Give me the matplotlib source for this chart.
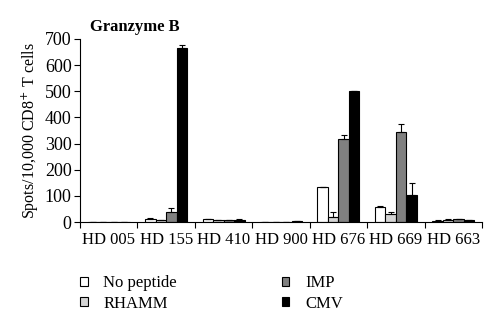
import numpy as np
import matplotlib.pyplot as plt
from matplotlib.patches import Patch

plt.rcParams['font.family'] = ['Liberation Serif', 'DejaVu Serif']

donors = ['HD 005', 'HD 155', 'HD 410', 'HD 900', 'HD 676', 'HD 669', 'HD 663']
conditions = ['No peptide', 'RHAMM', 'IMP', 'CMV']

no_peptide = [1, 11, 10, 1, 133, 58, 5]
rhamm = [1, 7, 7, 1, 20, 30, 9]
imp = [2, 40, 6, 2, 318, 345, 10]
cmv = [1, 665, 9, 3, 500, 103, 6]

no_peptide_err = [0, 3, 2, 0, 2, 5, 1]
rhamm_err = [0, 2, 2, 0, 18, 10, 2]
imp_err = [0, 12, 2, 0, 15, 28, 2]
cmv_err = [0, 12, 2, 1, 0, 45, 1]

values = [no_peptide, rhamm, imp, cmv]
errors = [no_peptide_err, rhamm_err, imp_err, cmv_err]
colors = ['white', '#d4d4d4', '#808080', 'black']

fig = plt.figure(figsize=(5, 3.27), dpi=100)
ax = fig.add_axes([0.16, 0.321, 0.804, 0.56])

x = np.arange(len(donors))
width = 0.183
for i, (vals, errs, col) in enumerate(zip(values, errors, colors)):
    pos = x + (i - 1.5) * width
    ax.bar(pos, vals, width, color=col, edgecolor='black', linewidth=0.8, zorder=2)
    ax.errorbar(pos, vals, yerr=[np.zeros(len(errs)), errs], fmt='none',
                ecolor='black', elinewidth=0.8, capsize=2, capthick=0.8, zorder=3)

ax.set_xlim(-0.5, len(donors) - 0.5)
ax.set_ylim(0, 700)
ax.set_yticks(range(0, 701, 100))
ax.set_xticks(np.arange(len(donors) + 1) - 0.5)
ax.set_xticklabels([])
ax.set_xticks(x, minor=True)
ax.set_xticklabels(donors, minor=True, fontsize=12)
ax.tick_params(axis='x', which='minor', length=0, pad=7)
ax.tick_params(axis='x', which='major', length=4, direction='out', width=0.8)
ax.tick_params(axis='y', labelsize=13, length=4, width=0.8, pad=2)
for side in ['top', 'right']:
    ax.spines[side].set_visible(False)
for side in ['left', 'bottom']:
    ax.spines[side].set_linewidth(0.8)

ax.set_ylabel('Spots/10,000 CD8$^{+}$ T cells', fontsize=11.5, labelpad=3)
fig.text(0.18, 0.905, 'Granzyme B', fontsize=12, fontweight='bold')

handles = [Patch(facecolor=c, edgecolor='black', linewidth=0.8) for c in colors]
fig.legend(handles, conditions, loc='upper left', bbox_to_anchor=(0.16, 0.158),
           ncol=2, frameon=False, fontsize=12, handlelength=0.45, handleheight=0.45,
           columnspacing=6.3, labelspacing=0.25, handletextpad=0.95, borderpad=0,
           borderaxespad=0)

fig.savefig('out.png', dpi=100)
